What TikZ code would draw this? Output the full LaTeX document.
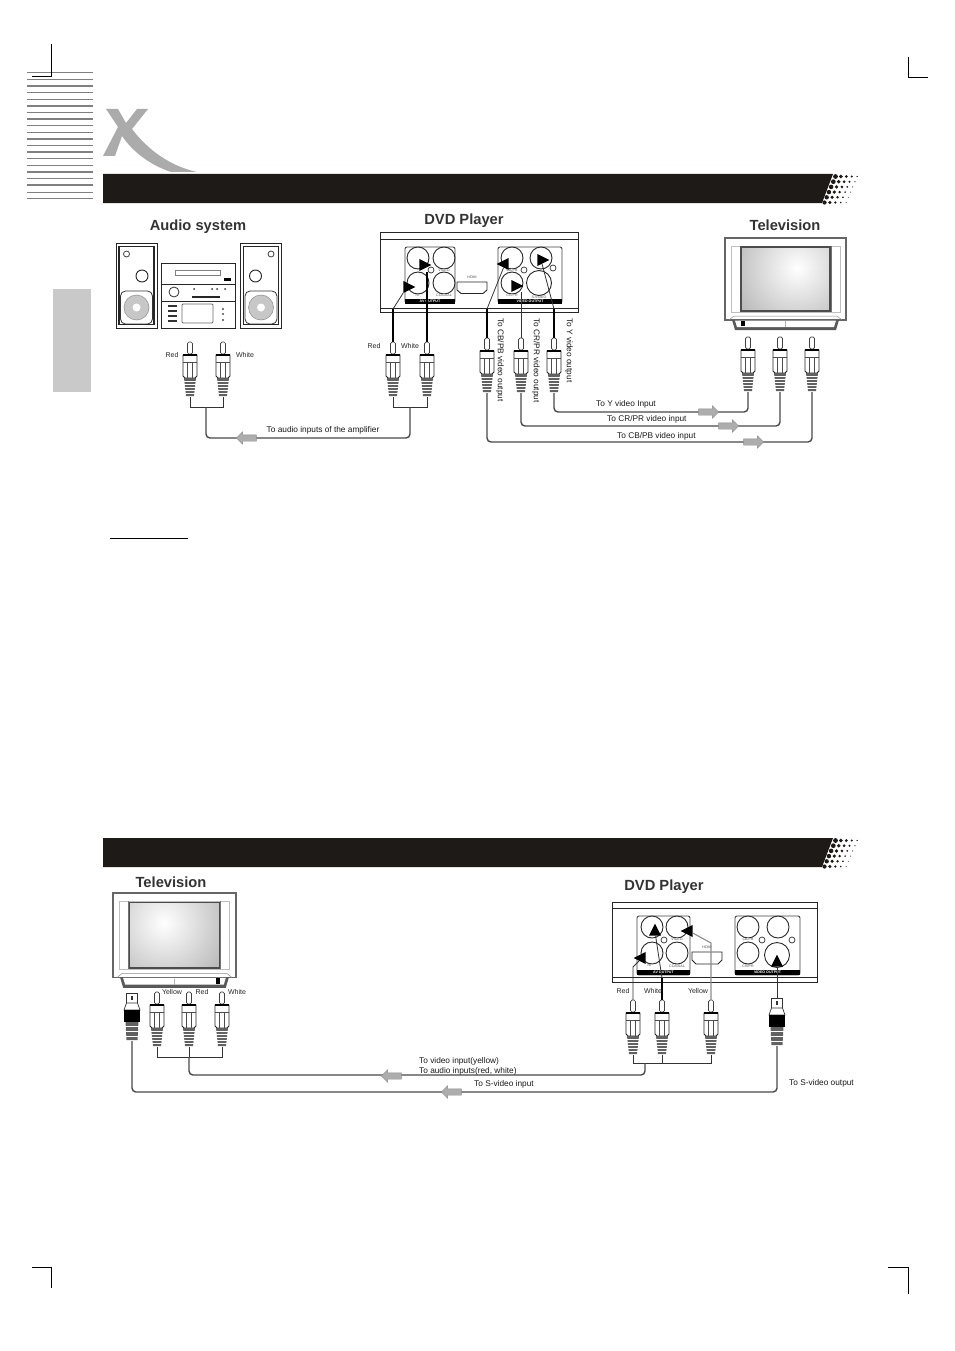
\documentclass[tikz,border=0pt]{standalone}
\usepackage{fontspec}
\setmainfont{Liberation Sans}
\usetikzlibrary{shapes.geometric,shapes.arrows}

\definecolor{barblack}{HTML}{1E1A17}
\definecolor{logogray}{HTML}{ABABAB}
\definecolor{tabgray}{HTML}{C9C9C9}
\definecolor{cablegray}{HTML}{484848}

\tikzset{
  title text/.style={font=\fontsize{14.7}{16}\selectfont\bfseries,text=black!80,inner sep=0},
  label text/.style={font=\fontsize{7}{8}\selectfont,text=black!85,inner sep=0},
  small text/.style={font=\fontsize{8.3}{9}\selectfont,text=black!90,inner sep=0},
  tiny text/.style={font=\fontsize{3.6}{4}\selectfont,text=black!70,inner sep=0},
  panel strip/.style={fill=black,text=white,font=\fontsize{3.6}{4}\selectfont\bfseries,minimum height=5pt,inner sep=0},
  panel box/.style={draw=black!75,line width=0.9pt,rounded corners=2pt},
  jack/.style={circle,draw=black!85,line width=0.9pt,fill=white,minimum size=22pt,inner sep=0},
  big jack/.style={jack,minimum size=25pt},
  small jack/.style={circle,draw=black!80,line width=0.7pt,fill=white,minimum size=6pt,inner sep=0},
  port head/.style={isosceles triangle,isosceles triangle stretches,fill=black,minimum width=12pt,minimum height=12pt,inner sep=0},
  cable/.style={draw=cablegray,line width=1.4pt},
  feed/.style={draw=black,line width=1.7pt},
  thin feed/.style={draw=black!80,line width=0.8pt},
  gray feed/.style={draw=black!45,line width=1.1pt},
  flow arrow/.style={single arrow,draw=black!45,fill=black!32,minimum height=20pt,text height=6pt,text depth=0pt,text width=8pt,single arrow head extend=3pt,single arrow tip angle=90,inner sep=0},
  pics/rcaplug/.style={code={
    \coordinate (-top) at (0,0);
    \coordinate (-bot) at (0,55);
    \draw[black!75,line width=0.7pt,fill=white,rounded corners=1.5pt] (-2.5,0) rectangle (2.5,12);
    \draw[black!85,line width=0.8pt,fill=white] (-7,13) -- (-7,34) -- (-5,36) -- (5,36) -- (7,34) -- (7,13) -- cycle;
    \fill[black] (-7,11.5) rectangle (7,14);
    \draw[black!70,line width=0.6pt] (-7,20) -- (7,20) (-2.5,20) -- (-2.5,36) (2.5,20) -- (2.5,36);
    \fill[black!62] (-6,36) -- (6,36) -- (4,54) -- (-4,54) -- cycle;
    \foreach \s in {39,42,...,52} \draw[white,line width=0.45pt] (-7,\s) -- (7,\s);
  }},
  pics/splug/.style={code={
    \coordinate (-top) at (0,0);
    \coordinate (-bot) at (0,48);
    \draw[black!80,line width=0.7pt,fill=white] (-5.5,0) rectangle (5.5,10);
    \fill[black!80] (-1,3) rectangle (1,7);
    \draw[black!80,line width=0.7pt,fill=white] (-5.5,10) -- (-8,17) -- (8,17) -- (5.5,10) -- cycle;
    \fill[black] (-8,17) rectangle (8,29);
    \fill[black!62] (-6.5,29) -- (6.5,29) -- (5.5,47) -- (-5.5,47) -- cycle;
    \foreach \s in {33,38,43} \draw[white,line width=0.45pt] (-7,\s) -- (7,\s);
  }},
  pics/speaker/.style={code={
    \draw[black!85,line width=0.8pt,fill=white] (-20.5,0) rectangle (20.5,85);
    \draw[black!85,line width=1.5pt] (-17.5,3.5) rectangle (17.5,81.5);
    \draw[black!75,line width=0.8pt] (-10,11) circle (3pt);
    \draw[black!85,line width=0.9pt] (5.5,33) circle (6pt);
    \draw[black!80,line width=0.8pt,rounded corners=5pt] (-16,48) rectangle (16,81);
    \fill[black!22] (0,64.5) circle (12.5pt);
    \draw[black!45,line width=0.5pt] (0,64.5) circle (12.5pt);
    \fill[white] (0,64.5) circle (4pt);
  }},
  pics/tvset/.style n args={3}{code={
    \draw[black!60,line width=1.8pt,fill=white] (0,0) rectangle (121,82);
    \draw[black!25,line width=0.7pt] (6,8) rectangle (115,74);
    \draw[black!55,line width=0.7pt] (15,8) -- (15,74) (106,8) -- (106,74);
    \begin{scope}
      \clip (16,9) rectangle (105,73);
      \shade[inner color=white,outer color=black!32] (#1,#2) circle (80pt);
    \end{scope}
    \draw[black!70,line width=1.5pt] (16,9) rectangle (105,73);
    \draw[black!45,line width=0.5pt] (4,82) -- (9,78) -- (112,78) -- (117,82);
    \fill[black!65] (7,82) -- (114,82) -- (111,92) -- (10,92) -- cycle;
    \fill[white] (10,82.5) -- (111,82.5) -- (109,89) -- (12,89) -- cycle;
    \draw[black!30,line width=0.5pt] (60,83) -- (60,89);
    \fill[black] (#3-2,82.5) rectangle (#3+2,88);
  }},
  pics/headerbar/.style={code={
    \fill[barblack] (0,0) -- (730,0) -- (719,29) -- (0,29) -- cycle;
    \foreach \r in {0,...,5}
      \foreach \i in {0,...,4}
        \fill[barblack] ({730-\r*2.2+\i*5.4+2.5},{\r*5.2+2.5}) circle ({2.4-\i*0.42-\r*0.06});
  }}
}

\begin{document}
\begin{tikzpicture}[x=1pt,y=-1pt]
  \useasboundingbox (0,0) rectangle (954,1351);

  \foreach \w [count=\n from 0] in {1.6,0.7,1.6,1.6,0.7,1.6,0.7,1.6,1.6,0.7,1.6,0.7,1.6,0.7,0.7,1.6,0.7,1.6,0.7,0.7}
    \draw[black!50,line width=\w pt] (27,{72.7+\n*6.62}) -- (93,{72.7+\n*6.62});
  \fill[tabgray] (53,289) rectangle (91,392);

  \draw[black,line width=0.8pt] (51.5,44) -- (51.5,76);
  \draw[black,line width=1.6pt] (32,76.5) -- (52,76.5);
  \draw[black,line width=0.8pt] (908,57) |- (928,77);
  \draw[black,line width=0.8pt] (32,1267) -| (51,1288);
  \draw[black,line width=0.8pt] (888,1267) -| (908,1294);

  \fill[logogray] (106,109) -- (118,109) -- (126,123) -- (137,109) -- (148,109) -- (132,129)
    .. controls (148,150) and (170,166) .. (197,172) -- (171,172)
    .. controls (150,165) and (133,152) .. (122,136) -- (115,156) -- (103,156) -- (118,127) -- cycle;

  \pic at (103,174) {headerbar};
  \pic at (103,838) {headerbar};
  \draw[black,line width=0.8pt] (110,538) -- (188,538);

  \node[title text] (audiotitle) at (198,226.5) {Audio system};
  \node[title text] (dvdtitle) at (464,220.5) {DVD Player};
  \node[title text] (tvtitle) at (785,225) {Television};
  \node[title text] (tvtitle2) at (171,882) {Television};
  \node[title text] (dvdtitle2) at (664,886.5) {DVD Player};

  \pic at (136.5,243) {speaker};
  \pic[xscale=-1] at (261,243) {speaker};

  \draw[black!85,line width=0.9pt] (161,263) rectangle (235,328) (161,284) -- (235,284) (161,301) -- (235,301);
  \draw[black!50,line width=0.7pt] (175,270) rectangle (220,275);
  \fill[black] (224,278) rectangle (231,280.5);
  \draw[black!80,line width=0.8pt] (174,292) circle (5pt);
  \foreach \x in {194,212,217,225} \fill[black!80] (\x,289) circle (1pt);
  \draw[black!85,line width=1.3pt] (192,297) -- (220,297);
  \foreach \y in {306,311,316,321} \draw[black!80,line width=1.1pt] (168,\y) -- (177,\y);
  \draw[black!60,line width=0.8pt,rounded corners=1pt] (182,304) rectangle (213,323);
  \foreach \y in {309,314,320} \fill[black!70] (223,\y) circle (1.2pt);

  \pic at (725,238) {tvset={72}{30}{18}};
  \pic[xscale=1.016,yscale=1.03] at (113,893) {tvset={50}{29}{103}};

  \draw[black!85,line width=0.9pt] (380,232) rectangle (578,312) (380,239) -- (578,239) (380,308) -- (578,308);
  \draw[panel box] (405,247) rectangle (455,303);
  \draw[panel box] (498,247) rectangle (562,303);
  \node[panel strip,minimum width=50pt] (avstrip) at (430,301) {AV OUTPUT};
  \node[panel strip,minimum width=64pt] (videostrip) at (530,301) {VIDEO OUTPUT};
  \foreach \n/\x/\y in {avl/418/258,avv/444/258,avr/418/283,avc/444/283,vcb/512/258,vy/541/258,vcr/512/283}
    \node[jack] (\n) at (\x,\y) {};
  \node[big jack] (vs) at (539,283) {};
  \foreach \n/\x/\y in {avs/431/270,vsa/524/270,vsb/553/268}
    \node[small jack] (\n) at (\x,\y) {};
  \node[tiny text] (hdmilabel) at (472,277) {HDMI};
  \draw[black!85,line width=0.9pt] (457,282) -- (487,282) -- (487,290) -- (483,293.5) -- (461,293.5) -- (457,290) -- cycle;
  \node[tiny text,fill=white] (avvlabel) at (444,270) {VIDEO};
  \node[tiny text,fill=white] (avrlabel) at (418,295) {RF};
  \node[tiny text,fill=white] (avclabel) at (444,295) {COAXIAL};
  \node[tiny text,fill=white] (vcblabel) at (512,270) {CB/PB};
  \node[tiny text,fill=white] (vcrlabel) at (512,295) {CR/PR};
  \node[tiny text,fill=white] (vslabel) at (539,297) {S-VIDEO};

  \draw[black!85,line width=0.9pt] (612,902) rectangle (817,982) (612,908) -- (817,908) (612,977) -- (817,977);
  \draw[panel box] (637,916) rectangle (690,975);
  \draw[panel box] (735,916) rectangle (800,975);
  \node[panel strip,minimum width=53pt] (avstrip2) at (663.5,972.5) {AV OUTPUT};
  \node[panel strip,minimum width=65pt] (videostrip2) at (767.5,972.5) {VIDEO OUTPUT};
  \foreach \n/\x/\y in {bavl/652/927,bavv/677/927,bavr/652/953,bavc/677/953,bvcb/748/927,bvy/778/927,bvcr/748/953}
    \node[jack] (\n) at (\x,\y) {};
  \node[big jack] (bvs) at (777,955) {};
  \foreach \n/\x/\y in {bavs/664/940,bvsa/762/940,bvsb/792/940}
    \node[small jack] (\n) at (\x,\y) {};
  \node[tiny text] (hdmilabel2) at (707,947) {HDMI};
  \draw[black!85,line width=0.9pt] (692,952) -- (722,952) -- (722,960) -- (718,964) -- (696,964) -- (692,960) -- cycle;
  \node[tiny text,fill=white] (bavvlabel) at (677,939.5) {VIDEO};
  \node[tiny text,fill=white] (bavrlabel) at (650,965) {RF};
  \node[tiny text,fill=white] (bavclabel) at (677,966) {COAXIAL};
  \node[tiny text,fill=white] (bvcblabel) at (748,939.5) {CB/PB};
  \node[tiny text,fill=white] (bvcrlabel) at (748,966) {CR/PR};

  \pic (ampr) at (190,342) {rcaplug};
  \pic (ampw) at (223,342) {rcaplug};
  \pic (dvdr) at (393,342) {rcaplug};
  \pic (dvdw) at (427,342) {rcaplug};
  \pic (cb) at (487,338) {rcaplug};
  \pic (cr) at (521,338) {rcaplug};
  \pic (yy) at (554,338) {rcaplug};
  \pic (tvy) at (748,337) {rcaplug};
  \pic (tvcr) at (780,337) {rcaplug};
  \pic (tvcb) at (812,337) {rcaplug};

  \pic (bs) at (132,993) {splug};
  \pic (byel) at (157,992) {rcaplug};
  \pic (bred) at (189,992) {rcaplug};
  \pic (bwht) at (222,992) {rcaplug};
  \pic (pr) at (633,1000) {rcaplug};
  \pic (pw) at (662,1000) {rcaplug};
  \pic (py) at (711,1000) {rcaplug};
  \pic (ps) at (777,998) {splug};

  \node[port head,shape border rotate=35] (hdvdr) at (407,287) {};
  \node[port head,shape border rotate=0] (hdvdw) at (423,265) {};
  \node[port head,shape border rotate=180] (hcb) at (505,264) {};
  \node[port head,shape border rotate=0] (hcr) at (515,286) {};
  \node[port head,shape border rotate=0] (hy) at (541,260) {};
  \node[port head,shape border rotate=150] (hpr) at (642,958) {};
  \node[port head,shape border rotate=90] (hpw) at (655,932) {};
  \node[port head,shape border rotate=180] (hpy) at (689,931) {};
  \node[port head,shape border rotate=90] (hps) at (777,963) {};

  \coordinate (ampjoin) at (206,407);
  \coordinate (dvdjoin) at (410,407);
  \coordinate (bjoin) at (189,1057);
  \coordinate (pjoin) at (645,1063);

  \draw[thin feed] (ampr-bot) -- ++(0,10) -| (ampw-bot);
  \draw[thin feed] (dvdr-bot) -- ++(0,10) -| (dvdw-bot);
  \draw[cable,rounded corners=4pt] (ampjoin) -- (206,438) -- (410,438) -- (dvdjoin);
  \draw[cable,rounded corners=4pt] (yy-bot) -- (554,412) -- (748,412) -- (tvy-bot);
  \draw[cable,rounded corners=4pt] (cr-bot) -- (521,426) -- (780,426) -- (tvcr-bot);
  \draw[cable,rounded corners=4pt] (cb-bot) -- (487,442) -- (812,442) -- (tvcb-bot);

  \draw[feed] (dvdr-top) -- (393,309);
  \draw[thin feed] (393,309) -- (hdvdr);
  \draw[feed] (dvdw-top) -- (427,272);
  \draw[feed] (cb-top) -- (487,309);
  \draw[thin feed] (487,309) -- (hcb);
  \draw[thin feed] (cr-top) -- (521,292);
  \draw[feed] (yy-top) -- (554,309);
  \draw[thin feed] (554,309) -- (hy);

  \draw[thin feed] (byel-bot) -- (157,1057) -- (222,1057) -- (bwht-bot);
  \draw[thin feed] (pr-bot) -- (633,1063) -- (711,1063) -- (py-bot);
  \draw[thin feed] (pw-bot) -- (662,1063);
  \draw[thin feed] (bred-bot) -- (bjoin);
  \draw[cable,rounded corners=4pt] (bjoin) -- (189,1075) -- (645,1075) -- (pjoin);
  \draw[cable,rounded corners=4pt] (bs-bot) -- (132,1092) -- (777,1092) -- (ps-bot);

  \draw[thin feed] (pr-top) -- (633,967) -- (hpr);
  \draw[feed] (pw-top) -- (662,978);
  \draw[thin feed] (662,978) -- (hpw);
  \draw[gray feed] (py-top) -- (711,943) -- (hpy);
  \draw[thin feed] (ps-top) -- (hps);

  \node[flow arrow,shape border rotate=180] (arrowamp) at (248,438) {};
  \node[flow arrow] (arrowy) at (707,412) {};
  \node[flow arrow] (arrowcr) at (727,426) {};
  \node[flow arrow] (arrowcb) at (752,442) {};
  \node[flow arrow,shape border rotate=180] (arrowav) at (393,1076) {};
  \node[flow arrow,shape border rotate=180] (arrows) at (453,1092) {};

  \node[label text] (tred) at (172,355) {Red};
  \node[label text] (twhite) at (245,355) {White};
  \node[label text] (tred2) at (374,346) {Red};
  \node[label text] (twhite2) at (410,346) {White};
  \node[small text] (tamp) at (323,430) {To audio inputs of the amplifier};
  \node[small text,anchor=west] (tyin) at (596,404) {To Y video Input};
  \node[small text,anchor=west] (tcrin) at (607,419) {To CR/PR video input};
  \node[small text,anchor=west] (tcbin) at (617,436) {To CB/PB video input};
  \node[small text,rotate=-90,anchor=west] (tcbout) at (500,318) {To CB/PB video output};
  \node[small text,rotate=-90,anchor=west] (tcrout) at (536,318) {To CR/PR video output};
  \node[small text,rotate=-90,anchor=west] (tyout) at (569,318) {To Y video output};

  \node[label text] (byellow) at (172,992) {Yellow};
  \node[label text] (bredt) at (202,992) {Red};
  \node[label text] (bwhite) at (237,992) {White};
  \node[label text] (pred) at (623,991) {Red};
  \node[label text] (pwhite) at (653,991) {White};
  \node[label text] (pyellow) at (698,991) {Yellow};
  \node[small text,anchor=west] (tvidin) at (419,1061) {To video input(yellow)};
  \node[small text,anchor=west] (taudin) at (419,1071) {To audio inputs(red, white)};
  \node[small text,anchor=west] (tsin) at (474,1084) {To S-video input};
  \node[small text,anchor=west] (tsout) at (789,1083) {To S-video output};
\end{tikzpicture}
\end{document}
